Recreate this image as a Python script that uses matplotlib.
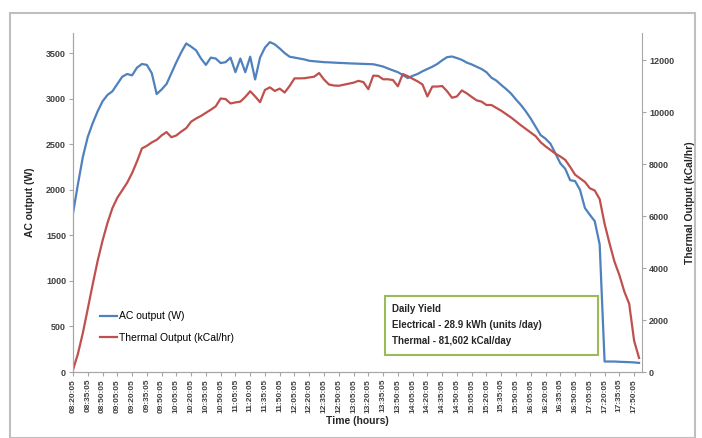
import matplotlib
matplotlib.use("Agg")
import matplotlib.pyplot as plt
from matplotlib.patches import Rectangle

plt.rcParams['font.family'] = ['Liberation Sans', 'DejaVu Sans']

# ---- data -------------------------------------------------------------
ac_output = [
    1740, 2060, 2360, 2580, 2730, 2860, 2970, 3040, 3080, 3160,
    3240, 3270, 3255, 3340, 3380, 3370, 3280, 3050, 3100, 3160,
    3280, 3400, 3510, 3605, 3570, 3530, 3440, 3370, 3450, 3440,
    3390, 3400, 3450, 3290, 3440, 3290, 3460, 3210, 3450, 3560,
    3620, 3595, 3550, 3500, 3460, 3450, 3440, 3430, 3415, 3410,
    3405, 3400, 3398, 3395, 3392, 3390, 3387, 3385, 3383, 3381,
    3379, 3377, 3365, 3352, 3330, 3310, 3290, 3260, 3225, 3250,
    3270, 3300, 3325, 3350, 3380, 3420, 3455, 3462, 3445, 3425,
    3395, 3375, 3350, 3325, 3290, 3230, 3198, 3150, 3105, 3055,
    2990, 2930, 2860, 2780, 2690, 2600, 2560, 2505, 2400, 2290,
    2230, 2105, 2095, 2000, 1800, 1725, 1655, 1400, 115, 115,
    115, 112, 110, 108, 105, 100,
]

thermal_output = [
    80, 700, 1500, 2430, 3370, 4270, 5050, 5730, 6300, 6700,
    6990, 7280, 7650, 8100, 8600, 8700, 8830, 8930, 9100, 9230,
    9030, 9100, 9250, 9380, 9630, 9750, 9850, 9970, 10090, 10220,
    10520, 10500, 10330, 10370, 10400, 10580, 10800, 10600, 10380, 10850,
    10950, 10810, 10900, 10750, 11000, 11295, 11295, 11300, 11330, 11360,
    11500, 11250, 11060, 11020, 11010, 11050, 11090, 11130, 11200, 11150,
    10880, 11400, 11390, 11260, 11260, 11230, 10990, 11460, 11380, 11280,
    11180, 11060, 10600, 10980, 10980, 11000, 10800, 10550, 10600, 10830,
    10720, 10580, 10450, 10400, 10270, 10270, 10160, 10050, 9920, 9790,
    9640, 9490, 9350, 9210, 9070, 8840, 8680, 8540, 8400, 8290,
    8160, 7890, 7590, 7450, 7310, 7070, 6980, 6650, 5700, 4950,
    4250, 3730, 3100, 2620, 1200, 540,
]

# time of each sample (every 5 minutes from 08:20:05)
time_labels = []
for k in range(len(ac_output)):
    m = 8 * 60 + 20 + 5 * k
    time_labels.append(f"{m // 60:02d}:{m % 60:02d}:05")

left_ticks = [0, 500, 1000, 1500, 2000, 2500, 3000, 3500]
right_ticks = [0, 2000, 4000, 6000, 8000, 10000, 12000]

series_names = ["AC output (W)", "Thermal Output (kCal/hr)"]
box_lines = ["Daily Yield",
             "Electrical - 28.9 kWh (units /day)",
             "Thermal - 81,602 kCal/day"]

# ---- figure -----------------------------------------------------------
W, H = 702, 438
fig = plt.figure(figsize=(W / 100, H / 100), dpi=100)
fig.patch.set_facecolor('white')

# outer chart border
fig.patches.append(Rectangle((10 / W, 0.0), 685 / W, 1 - 13 / H,
                             transform=fig.transFigure, fill=False,
                             edgecolor='#bfbfbf', linewidth=1.5))

ax = fig.add_axes([73 / W, 1 - 372 / H, (642 - 73) / W, (372 - 33) / H])
ax2 = ax.twinx()

blue = '#4F81BD'
red = '#C0504D'
x = list(range(len(ac_output)))
l1, = ax.plot(x, ac_output, color=blue, lw=1.6, label=series_names[0])
l2, = ax2.plot(x, thermal_output, color=red, lw=1.6, label=series_names[1])

ax.set_xlim(0, len(ac_output) - 1 + 0.6)
ax.set_ylim(0, 3720)
ax2.set_ylim(0, 13040)

ax.set_yticks(left_ticks)
ax2.set_yticks(right_ticks)
tick_font = dict(fontsize=6.5, fontweight='bold', color='#404040')
ax.set_yticklabels([str(v) for v in left_ticks], **tick_font)
ax2.set_yticklabels([str(v) for v in right_ticks], **tick_font)

xt = x[::3]
ax.set_xticks(xt)
ax.set_xticklabels([time_labels[i] for i in xt], rotation=90,
                   fontsize=6, fontweight='bold', color='#404040')

for a in (ax, ax2):
    for s in a.spines.values():
        s.set_color('#a6a6a6')
    a.spines['top'].set_visible(False)
    a.tick_params(axis='both', length=3, color='#a6a6a6', pad=2)
ax.spines['right'].set_visible(False)

ax.set_ylabel("AC output (W)", fontsize=7.5, fontweight='bold',
              color='#262626', labelpad=8)
ax2.set_ylabel("Thermal Output (kCal/hr)", fontsize=7.5, fontweight='bold',
               color='#262626', labelpad=8)
ax.set_xlabel("Time (hours)", fontsize=7.5, fontweight='bold',
              color='#262626', labelpad=2)

leg = ax.legend(handles=[l1, l2], loc='lower left',
                bbox_to_anchor=(18 / 569, 20 / 339), frameon=False,
                fontsize=7.5, handlelength=1.6, handletextpad=0.2,
                labelspacing=1.1)

# text box
fig.patches.append(Rectangle((385 / W, 1 - 355 / H), (598 - 385) / W,
                             (355 - 296) / H, transform=fig.transFigure,
                             facecolor='white', edgecolor='#9BBB59',
                             linewidth=1.5, zorder=5))
for j, t in enumerate(box_lines):
    fig.text(392 / W, 1 - (309 + 16 * j) / H, t, fontsize=7,
             fontweight='bold', color='#262626', va='center', ha='left',
             zorder=6)

fig.savefig('out.png', dpi=100, facecolor='white')
